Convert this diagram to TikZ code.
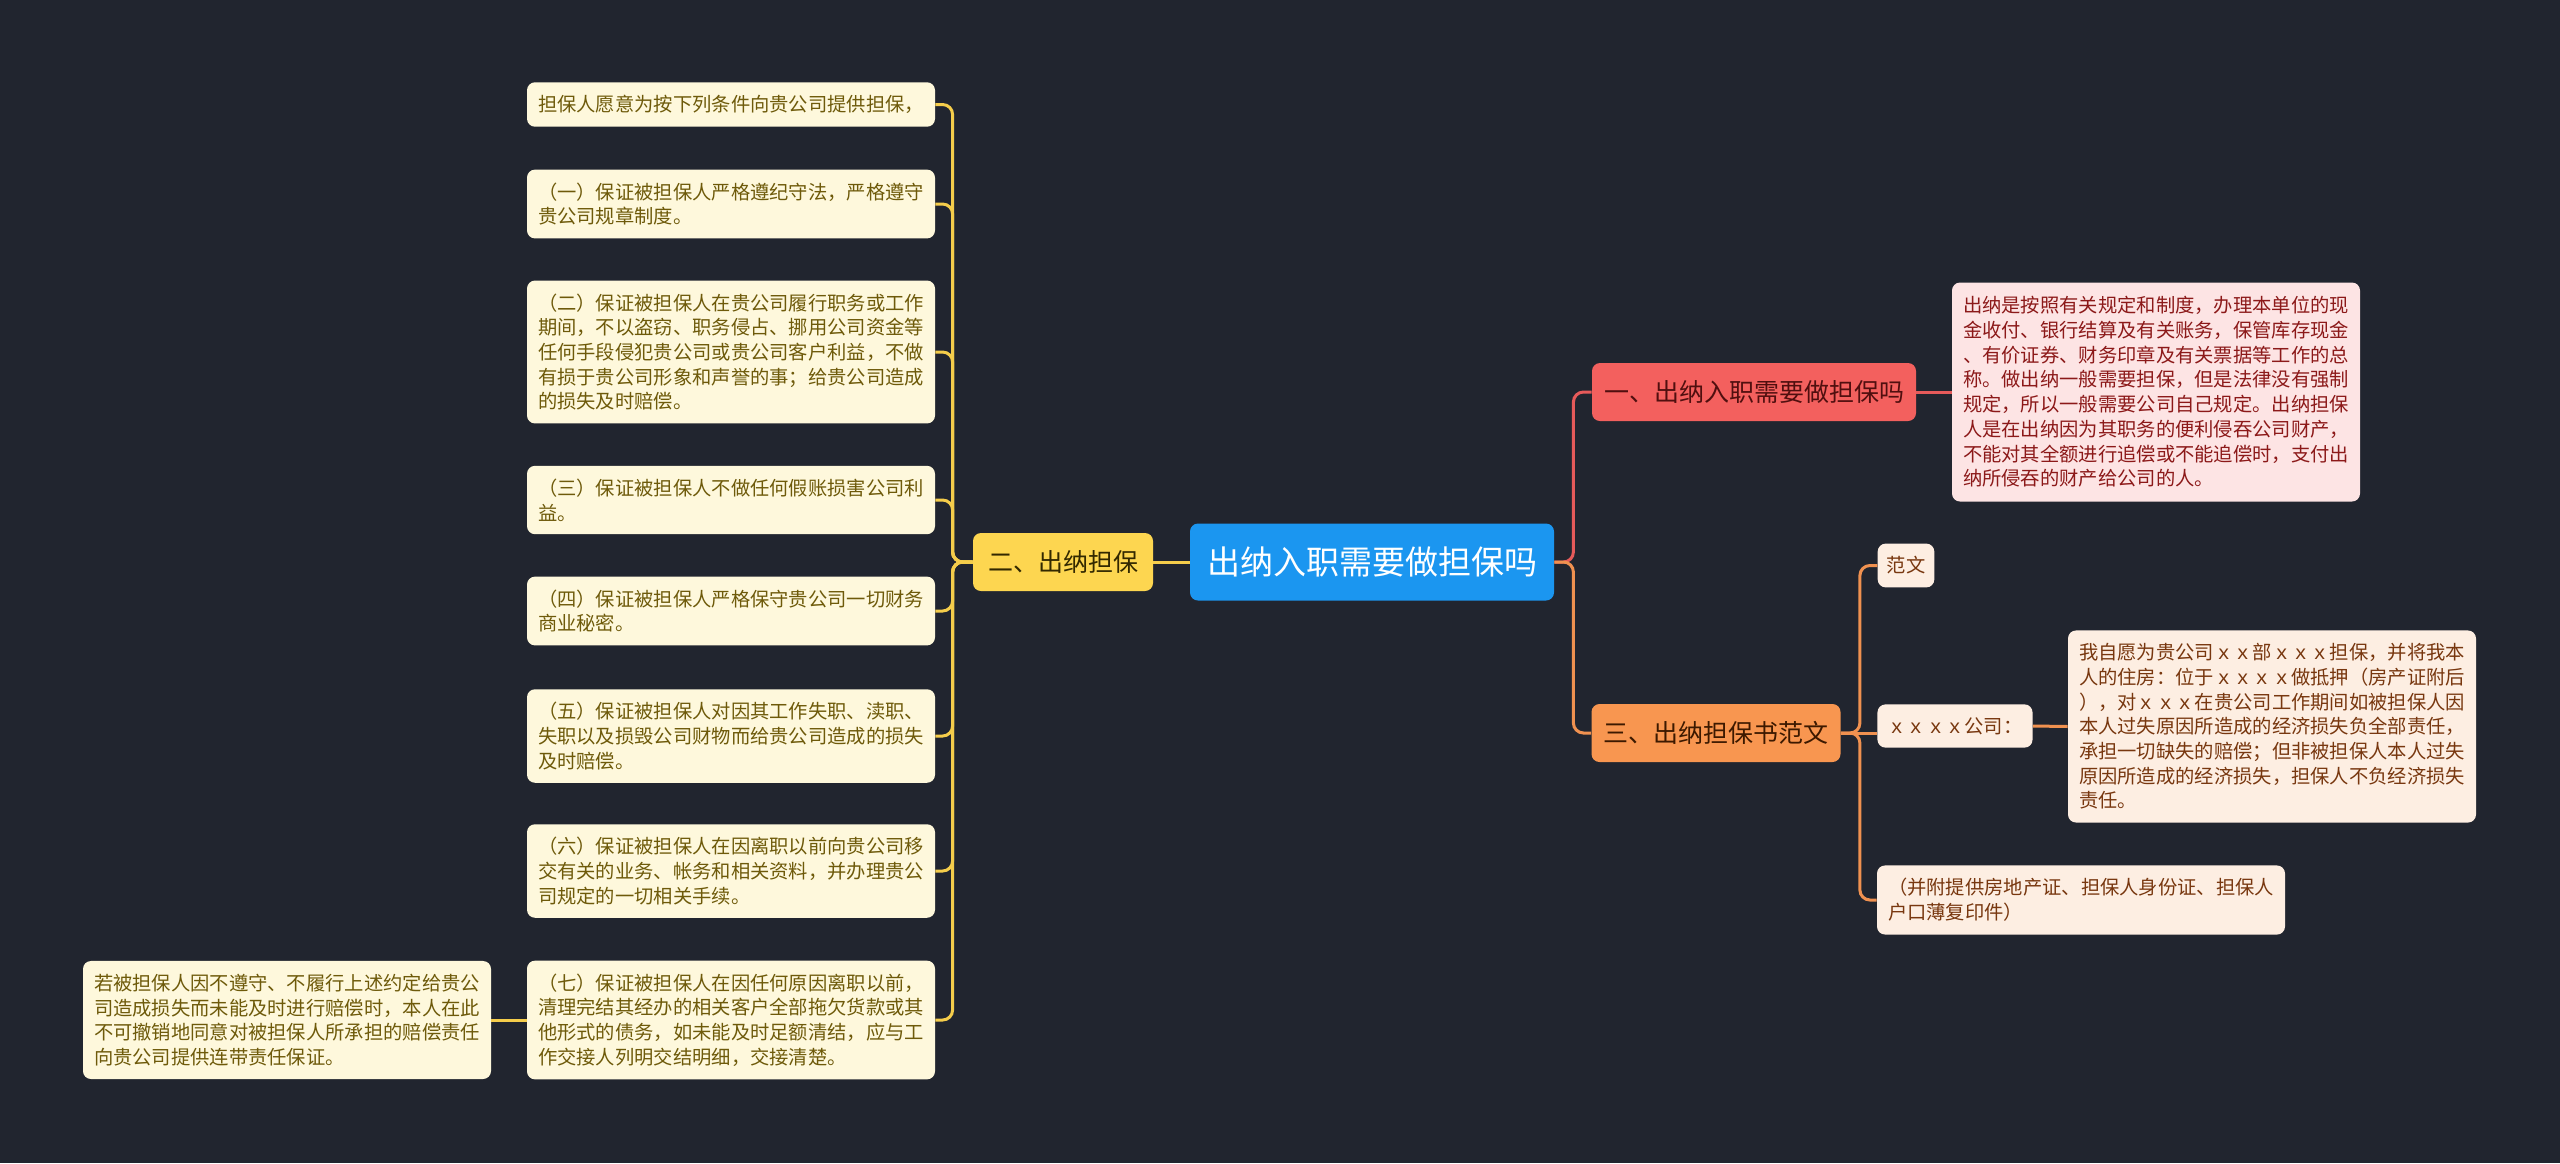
\documentclass[tikz,border=0pt]{standalone}
\usepackage{fontspec}
\setmainfont{Noto Sans CJK SC}
\usepackage{tikz}
\definecolor{bgcol}{RGB}{33,37,47}
\definecolor{rootblue}{RGB}{27,150,240}
\definecolor{ybox}{RGB}{253,214,80}
\definecolor{ytext}{RGB}{50,40,0}
\definecolor{yline}{RGB}{245,205,75}
\definecolor{cream}{RGB}{254,248,220}
\definecolor{creamtext}{RGB}{110,90,10}
\definecolor{rbox}{RGB}{243,96,94}
\definecolor{rtext}{RGB}{80,15,15}
\definecolor{rline}{RGB}{230,90,90}
\definecolor{pinkfill}{RGB}{253,228,228}
\definecolor{pinktext}{RGB}{140,25,25}
\definecolor{obox}{RGB}{248,150,80}
\definecolor{otext}{RGB}{60,25,0}
\definecolor{oline}{RGB}{240,145,80}
\definecolor{peach}{RGB}{253,238,226}
\definecolor{peachtext}{RGB}{120,55,15}
\newcommand{\txtsize}{\fontsize{9.65}{12.35}\selectfont}
\newcommand{\leftbranch}[2]{
	\draw[yline] (#1.west) -- ++(-20,0) |- (#2.east);
}
\tikzset{
	mmbox/.style={rectangle, rounded corners=4pt, align=left, inner xsep=5pt, inner ysep=6.5pt},
	topbox/.style={mmbox, align=center, font=\fontsize{12.5}{15}\selectfont, minimum height=29pt},
	leafbox/.style={mmbox, font=\txtsize, minimum width=204pt},
	yline/.style={draw=yline, line width=1.5pt, rounded corners=5pt},
	rline/.style={draw=rline, line width=1.5pt, rounded corners=5pt},
	oline/.style={draw=oline, line width=1.5pt, rounded corners=5pt}
}

\begin{document}
\begin{tikzpicture}[x=0.5pt,y=-0.5pt]
	\fill[bgcol] (0,0) rectangle (2560,1163);

	\node[mmbox, align=center, fill=rootblue, text=white, font=\fontsize{16.5}{20}\selectfont, minimum width=182pt, minimum height=38.5pt] (root) at (1372,562) {出纳入职需要做担保吗};

	\node[topbox, fill=ybox, text=ytext, minimum width=90pt] (er) at (1063,562) {二、出纳担保};
	\node[topbox, fill=rbox, text=rtext, minimum width=162pt] (one) at (1754,392) {一、出纳入职需要做担保吗};
	\node[topbox, fill=obox, text=otext, minimum width=124.5pt] (three) at (1716,733) {三、出纳担保书范文};

	\node[leafbox, fill=cream, text=creamtext] (q0) at (731,104.5) {担保人愿意为按下列条件向贵公司提供担保，};
	\node[leafbox, fill=cream, text=creamtext] (q1) at (731,204) {（一）保证被担保人严格遵纪守法，严格遵守\\贵公司规章制度。};
	\node[leafbox, fill=cream, text=creamtext] (q2) at (731,352) {（二）保证被担保人在贵公司履行职务或工作\\期间，不以盗窃、职务侵占、挪用公司资金等\\任何手段侵犯贵公司或贵公司客户利益，不做\\有损于贵公司形象和声誉的事；给贵公司造成\\的损失及时赔偿。};
	\node[leafbox, fill=cream, text=creamtext] (q3) at (731,500) {（三）保证被担保人不做任何假账损害公司利\\益。};
	\node[leafbox, fill=cream, text=creamtext] (q4) at (731,611) {（四）保证被担保人严格保守贵公司一切财务\\商业秘密。};
	\node[leafbox, fill=cream, text=creamtext] (q5) at (731,736) {（五）保证被担保人对因其工作失职、渎职、\\失职以及损毁公司财物而给贵公司造成的损失\\及时赔偿。};
	\node[leafbox, fill=cream, text=creamtext] (q6) at (731,871) {（六）保证被担保人在因离职以前向贵公司移\\交有关的业务、帐务和相关资料，并办理贵公\\司规定的一切相关手续。};
	\node[leafbox, fill=cream, text=creamtext] (q7) at (731,1020) {（七）保证被担保人在因任何原因离职以前，\\清理完结其经办的相关客户全部拖欠货款或其\\他形式的债务，如未能及时足额清结，应与工\\作交接人列明交结明细，交接清楚。};
	\node[leafbox, fill=cream, text=creamtext] (note) at (287,1020) {若被担保人因不遵守、不履行上述约定给贵公\\司造成损失而未能及时进行赔偿时，本人在此\\不可撤销地同意对被担保人所承担的赔偿责任\\向贵公司提供连带责任保证。};

	\node[leafbox, fill=pinkfill, text=pinktext, minimum height=109.5pt] (pink) at (2156,392) {出纳是按照有关规定和制度，办理本单位的现\\金收付、银行结算及有关账务，保管库存现金\\、有价证券、财务印章及有关票据等工作的总\\称。做出纳一般需要担保，但是法律没有强制\\规定，所以一般需要公司自己规定。出纳担保\\人是在出纳因为其职务的便利侵吞公司财产，\\不能对其全额进行追偿或不能追偿时，支付出\\纳所侵吞的财产给公司的人。};

	\node[mmbox, font=\txtsize, fill=peach, text=peachtext, inner xsep=4.5pt] (fanwen) at (1906,565.5) {范文};
	\node[mmbox, font=\txtsize, fill=peach, text=peachtext] (gs) at (1955,726) {ｘｘｘｘ公司：};
	\node[leafbox, fill=peach, text=peachtext] (wzy) at (2272,726.5) {我自愿为贵公司ｘｘ部ｘｘｘ担保，并将我本\\人的住房：位于ｘｘｘｘ做抵押（房产证附后\\），对ｘｘｘ在贵公司工作期间如被担保人因\\本人过失原因所造成的经济损失负全部责任，\\承担一切缺失的赔偿；但非被担保人本人过失\\原因所造成的经济损失，担保人不负经济损失\\责任。};
	\node[leafbox, fill=peach, text=peachtext] (fj) at (2081,900) {（并附提供房地产证、担保人身份证、担保人\\户口薄复印件）};

	\draw[yline] (root.west) -- (er.east);
	\leftbranch{er}{q0}
	\leftbranch{er}{q1}
	\leftbranch{er}{q2}
	\leftbranch{er}{q3}
	\leftbranch{er}{q4}
	\leftbranch{er}{q5}
	\leftbranch{er}{q6}
	\leftbranch{er}{q7}
	\draw[yline] (q7.west) -- (note.east);

	\draw[rline] (root.east) -- ++(19,0) |- (one.west);
	\draw[oline] (root.east) -- ++(19,0) |- (three.west);
	\draw[rline] (one.east) -- (pink.west);

	\draw[oline] (three.east) -- ++(19,0) |- (fanwen.west);
	\draw[oline] (three.east) -- (three.east -| gs.west);
	\draw[oline] (three.east) -- ++(19,0) |- (fj.west);
	\draw[oline] (gs.east) -- (wzy.west);
\end{tikzpicture}
\end{document}
